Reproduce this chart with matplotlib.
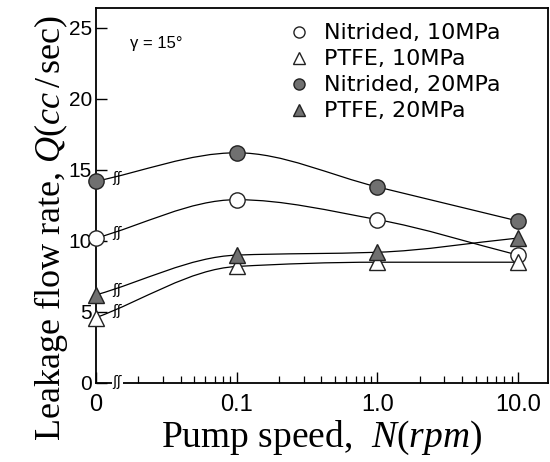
import numpy as np
import matplotlib
matplotlib.use('Agg')
import matplotlib.pyplot as plt
from matplotlib.path import Path
from matplotlib.patches import PathPatch
from matplotlib.lines import Line2D

plt.rcParams['mathtext.fontset'] = 'custom'
plt.rcParams['mathtext.rm'] = 'Liberation Serif'
plt.rcParams['mathtext.it'] = 'Liberation Serif:italic'

# pump speed (rpm); 0 is drawn at the left edge, 0.01 on the log axis
speed = [0, 0.1, 1.0, 10.0]
speed_labels = ['0', '0.1', '1.0', '10.0']
nitrided_10 = [10.2, 12.9, 11.5, 9.0]
ptfe_10 = [4.6, 8.2, 8.5, 8.5]
nitrided_20 = [14.2, 16.2, 13.8, 11.4]
ptfe_20 = [6.2, 9.0, 9.2, 10.2]

ZERO_POS = 0.01
BREAK_POS = 0.0142
GRAY = '#707070'


def xpos(v):
    return ZERO_POS if v == 0 else v


def smooth_path(xs, ys):
    # monotone cubic (Fritsch-Carlson style) through the points, in log-x
    lx = np.log10([xpos(v) for v in xs])
    ys = np.asarray(ys, float)
    d = np.diff(ys) / np.diff(lx)
    m = np.zeros(len(ys))
    m[0], m[-1] = d[0], d[-1]
    for i in range(1, len(ys) - 1):
        if d[i - 1] * d[i] > 0:
            m[i] = 2.0 / (1.0 / d[i - 1] + 1.0 / d[i])
    verts = [(lx[0], ys[0])]
    codes = [Path.MOVETO]
    for i in range(len(ys) - 1):
        h = lx[i + 1] - lx[i]
        verts += [(lx[i] + h / 3, ys[i] + m[i] * h / 3),
                  (lx[i + 1] - h / 3, ys[i + 1] - m[i + 1] * h / 3),
                  (lx[i + 1], ys[i + 1])]
        codes += [Path.CURVE4] * 3
    verts = np.array(verts)
    verts[:, 0] = 10 ** verts[:, 0]
    return Path(verts, codes)


fig = plt.figure(figsize=(5.5, 4.62), dpi=100)
ax = fig.add_axes([0.1745, 0.171, 0.8215, 0.812])
ax.set_xscale('log')
ax.set_xlim(ZERO_POS, 16.3)
ax.set_ylim(0, 26.4)

series = [
    (nitrided_10, 'o', 'white', 'Nitrided, 10MPa'),
    (ptfe_10, '^', 'white', 'PTFE, 10MPa'),
    (nitrided_20, 'o', GRAY, 'Nitrided, 20MPa'),
    (ptfe_20, '^', GRAY, 'PTFE, 20MPa'),
]

handles = []
for vals, mk, fc, lab in series:
    p = smooth_path(speed, vals)
    ax.add_patch(PathPatch(p, fill=False, edgecolor='black', lw=0.9, zorder=2))
    ax.plot([xpos(v) for v in speed], vals, linestyle='none', marker=mk,
            markersize=11, markerfacecolor=fc, markeredgecolor='#222222',
            markeredgewidth=1.0, zorder=4, clip_on=False)
    # break mark on each curve
    yb = vals[0] + (vals[1] - vals[0]) * 0.13
    ax.text(BREAK_POS, yb, 'ʃʃ', fontsize=10, ha='center', va='center',
            color='black', zorder=3)
    handles.append(Line2D([], [], linestyle='none', marker=mk, markersize=8,
                          markerfacecolor=fc, markeredgecolor='#222222',
                          markeredgewidth=1.0, label=lab))

# break on the x axis
ax.text(BREAK_POS, 0.1, 'ʃʃ', fontsize=10, ha='center', va='center',
        color='black', zorder=5,
        bbox=dict(facecolor='white', edgecolor='none', pad=0.3))

ax.set_xticks([xpos(v) for v in speed])
ax.set_xticklabels(speed_labels)
minor = [m * d for d in (0.01, 0.1, 1.0) for m in range(2, 10)]
ax.set_xticks(minor, minor=True)
ax.set_yticks([0, 5, 10, 15, 20, 25])
ax.tick_params(axis='both', which='major', direction='in', length=8,
               width=1.0, pad=3)
ax.tick_params(axis='x', which='minor', direction='in', length=5, width=0.9)
ax.tick_params(axis='x', which='major', pad=8, labelsize=17)
ax.tick_params(axis='y', labelsize=15)
for lab in ax.get_xticklabels() + ax.get_yticklabels():
    lab.set_family('Liberation Sans')
for s in ax.spines.values():
    s.set_linewidth(1.3)

ax.text(0.0175, 23.9, 'γ = 15°', fontsize=12, family='Liberation Sans',
        ha='left', va='center')

ax.legend(handles=handles, loc='upper left', bbox_to_anchor=(0.396, 1.0),
          frameon=False, prop={'family': 'DejaVu Sans', 'size': 16},
          handlelength=0.8, handletextpad=0.7, labelspacing=0.27,
          borderaxespad=0.3)

ax.set_xlabel(r'Pump speed,  $N(rpm)$', family='Liberation Serif',
              fontsize=27, labelpad=2)
ax.set_ylabel(r'Leakage flow rate, $Q(cc\,/\,\mathrm{sec})$',
              family='Liberation Serif', fontsize=26)
ax.yaxis.set_label_coords(-0.058, 0.413)

fig.savefig('out.png', dpi=100)
